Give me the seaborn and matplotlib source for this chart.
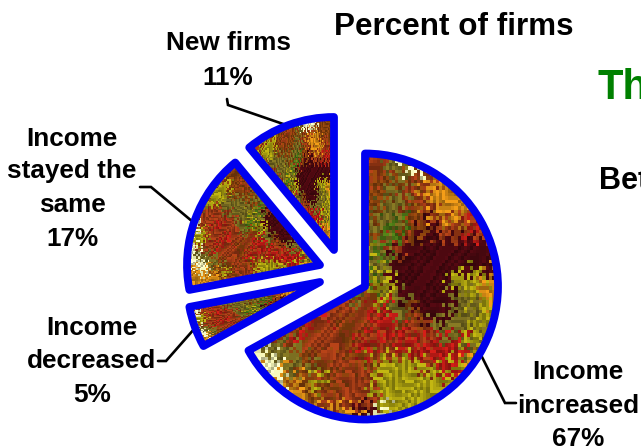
import numpy as np
import matplotlib
matplotlib.use("Agg")
import matplotlib.pyplot as plt
import seaborn as sns

# ---- data ----
categories = ["Income increased", "Income decreased", "Income stayed the same", "New firms"]
shares = [67, 5, 17, 11]
pct_labels = ["67%", "5%", "17%", "11%"]
label_lines = [["Income", "increased", "67%"],
               ["Income", "decreased", "5%"],
               ["Income", "stayed the", "same", "17%"],
               ["New firms", "11%"]]

# ---- style / layout (pixels of the 641x446 canvas, y downward) ----
W, H = 641, 446
BLUE = "#0000f0"
RADIUS = 133
centres_px = [(365, 286.5), (320, 282), (320, 265), (334, 250)]
tex_boxes_px = [(249, 498, 153, 420), (190, 318, 283, 345), (190, 320, 165, 290), (250, 332, 120, 253)]
label_pos_px = [(578, [379, 413, 446]), (92, [335, 368, 402]),
                (72, [146, 178, 212, 246]), (228, [50, 85])]
leaders_px = [[(480, 353), (505, 403), (516, 403)],
              [(195, 328), (166, 361), (158, 361)],
              [(193, 222), (151, 187), (140, 187)],
              [(289, 126), (228, 105), (227, 99)]]

# Coarse hand-read mosaic of the autumn-leaf fill
mosaic = ["MMRRMMMRRGPPPMMM",
          "MRRRMMMRMGMROMMM",
          "RRRYYMRMMGROOORM",
          "RRYYYMMMGGMROORr",
          "YYYYGGGMGgMDRRrR",
          "PGRRGGGGgRDDDDDD",
          "PRRRRGGYGDDDDDDD",
          "PRRrRRGgYDDDDYYO",
          "PYRRRRGMYGDDDGYO",
          "YYRRrRRRrGMDDGGY",
          "PRRrRRMRrrRRGGYY",
          "PGGMRRMrRRrrrrGY",
          "PPGGMRRMYYYRrYOY",
          "OPOMYMRRYYYYYrOO",
          "OOOOMRRRYYYYYOOO",
          "OOOOOOODPYYYOOOO"]
swatches = {"R": (150, 55, 20), "r": (175, 25, 20), "D": (70, 8, 15), "G": (112, 100, 30),
            "g": (70, 110, 20), "Y": (160, 150, 15), "O": (200, 130, 20),
            "P": (225, 225, 170), "M": (130, 62, 12)}

def leaf_texture():
    """Blocky dithered fill: each fine cell borrows a nearby mosaic colour."""
    base = np.array([[swatches[c] for c in row] for row in mosaic], dtype=float)
    n = 5
    rows, cols = base.shape[0] * n, base.shape[1] * n
    i, j = np.indices((rows, cols))
    scramble = (i * 131 + j * 277 + i * j * 19 + i * i * 7 + j * j * 11)
    di = (scramble % 7) - 3
    dj = ((scramble // 7) % 7) - 3
    si = np.clip((i + di) // n, 0, base.shape[0] - 1)
    sj = np.clip((j + dj) // n, 0, base.shape[1] - 1)
    big = base[si, sj]
    grain = ((scramble // 49) % 5 - 2) / 2.0
    big = big * (1 + 0.22 * grain[..., None])
    return np.clip(big, 0, 255).astype(np.uint8)

sns.set_theme(style="white")
plt.rcParams["font.family"] = ["Liberation Sans", "DejaVu Sans"]
plt.rcParams["font.weight"] = "bold"

fig = plt.figure(figsize=(W / 100, H / 100), dpi=100)
ax = fig.add_axes([0, 0, 1, 1])

wedges, _ = ax.pie(shares, startangle=90, counterclock=False, radius=RADIUS,
                   center=(W / 2, H / 2),
                   wedgeprops=dict(facecolor="none", edgecolor=BLUE, linewidth=5.6,
                                   joinstyle="round", zorder=3))
tex = leaf_texture()
for w, (cx, cy), (x0, x1, y0, y1) in zip(wedges, centres_px, tex_boxes_px):
    w.set_center((cx, H - cy))
    im = ax.imshow(tex, extent=(x0, x1, H - y1, H - y0), origin="upper",
                   interpolation="nearest", aspect="auto", zorder=1)
    im.set_clip_path(w)

for pts in leaders_px:
    xs, ys = zip(*pts)
    ax.plot(xs, [H - y for y in ys], color="black", lw=1.9, zorder=2,
            solid_joinstyle="miter")

ax.set_xlim(0, W)
ax.set_ylim(0, H)
ax.set_aspect("auto")
ax.axis("off")

for lines, (xc, baselines) in zip(label_lines, label_pos_px):
    for line, yb in zip(lines, baselines):
        ax.text(xc, H - yb, line, ha="center", va="baseline", fontsize=18.8,
                fontweight="bold", color="black", clip_on=True)

ax.text(334, H - 35, "Percent of firms", ha="left", va="baseline", fontsize=22.6,
        fontweight="bold", color="black")
ax.text(598, H - 99, "Th", ha="left", va="baseline", fontsize=30,
        fontweight="bold", color="#008000", clip_on=True)
ax.text(599, H - 189, "Bet", ha="left", va="baseline", fontsize=22,
        fontweight="bold", color="black", clip_on=True)

fig.savefig("out.png", dpi=100, facecolor="white")
